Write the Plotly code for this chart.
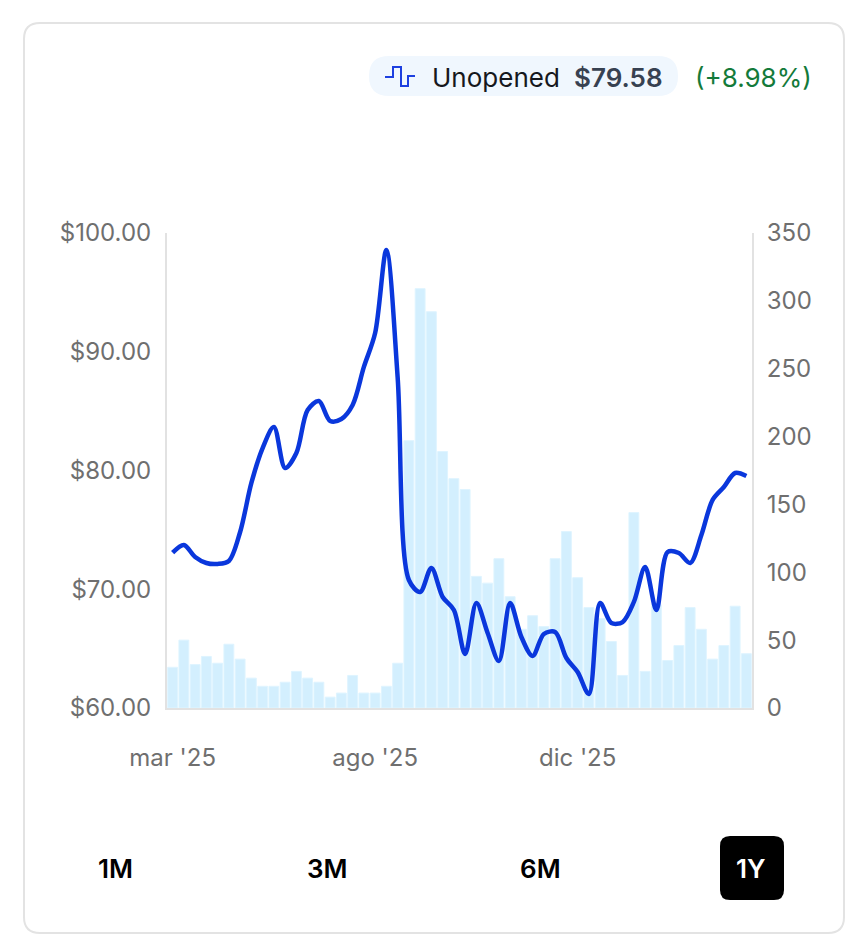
import plotly.graph_objects as go

W = 853
H = 947

# Datos
weeks = list(range(52))
prices = [73.08, 73.73, 72.72, 72.21, 72.13, 72.38, 74.82, 78.95, 81.89, 83.66, 80.21, 81.47, 85.09,
          85.85, 84.17, 84.34, 85.52, 88.72, 91.58, 98.57, 87.87, 70.78, 69.77, 71.79, 69.35, 68.25,
          64.55, 68.84, 66.32, 63.96, 68.84, 65.98, 64.38, 66.23, 66.40, 64.21, 63.03, 61.18, 68.84,
          67.16, 67.24, 68.93, 71.87, 68.25, 73.14, 73.05, 72.21, 74.57, 77.52, 78.61, 79.79, 79.54]
volumes = [30, 50, 32, 38, 33, 47, 36, 22, 16, 16, 19, 27, 22, 19, 8, 11, 24, 11, 11, 16, 33, 197,
           309, 292, 189, 169, 161, 97, 92, 110, 82, 58, 68, 60, 110, 130, 96, 74, 66, 49, 24, 144,
           27, 76, 35, 46, 74, 58, 36, 46, 75, 40]
x_tick_vals = [0, 18, 36]
x_tick_text = ["mar '25", "ago '25", "dic '25"]
price_ticks = [60, 70, 80, 90, 100]
price_labels = ["$60.00", "$70.00", "$80.00", "$90.00", "$100.00"]
volume_ticks = [0, 50, 100, 150, 200, 250, 300, 350]

FONT = "Inter"
GRAY = "#6f6f6f"
AXIS = "#e2e2e2"


def px(x):
    return x / W


def py(y):
    return 1 - y / H


def round_rect(x0, y0, x1, y1, r):
    a = [px(x0), px(x0 + r), px(x1 - r), px(x1)]
    b = [py(y0), py(y0 + r), py(y1 - r), py(y1)]
    return (f"M {a[1]} {b[0]} L {a[2]} {b[0]} Q {a[3]} {b[0]} {a[3]} {b[1]} "
            f"L {a[3]} {b[2]} Q {a[3]} {b[3]} {a[2]} {b[3]} L {a[1]} {b[3]} "
            f"Q {a[0]} {b[3]} {a[0]} {b[2]} L {a[0]} {b[1]} Q {a[0]} {b[0]} {a[1]} {b[0]} Z")


def box(x0, y0, x1, y1, r, fill, line="rgba(0,0,0,0)", width=0):
    return dict(type="path", xref="paper", yref="paper", path=round_rect(x0, y0, x1, y1, r),
                fillcolor=fill, line=dict(color=line, width=width), layer="below")


def label(x, y, text, size, color, anchor="center", weight=400):
    return dict(xref="paper", yref="paper", x=px(x), y=py(y), text=text, showarrow=False,
                xanchor=anchor, yanchor="middle",
                font=dict(family=FONT, size=size, color=color, weight=weight))


fig = go.Figure()

# Barras de volumen
fig.add_trace(go.Bar(x=weeks, y=volumes, yaxis="y", width=0.88,
                     marker=dict(color="#d3effe", line=dict(color="#dff4ff", width=1))))

# Linea de precio
fig.add_trace(go.Scatter(x=weeks, y=prices, yaxis="y2", mode="lines",
                         line=dict(color="#0a37dc", width=4.5, shape="spline", smoothing=0.9)))

icon = [(385, 77), (393, 77), (393, 67), (401, 67), (401, 86), (408, 86), (408, 76), (415, 76)]
icon_path = "M " + " L ".join(f"{px(a)} {py(b)}" for a, b in icon)

fig.update_layout(
    width=W, height=H, showlegend=False, hovermode=False,
    margin=dict(l=0, r=0, t=0, b=0, pad=0),
    paper_bgcolor="white", plot_bgcolor="rgba(0,0,0,0)",
    font=dict(family=FONT, size=24, color=GRAY),
    xaxis=dict(domain=[px(167), px(752)], range=[-0.5, 51.5], tickmode="array", automargin=False,
               tickvals=x_tick_vals, ticktext=x_tick_text, showgrid=False, zeroline=False,
               showline=True, linecolor=AXIS, linewidth=2, ticks="outside", ticklen=27,
               tickcolor="rgba(0,0,0,0)", tickfont=dict(family=FONT, size=24, color=GRAY)),
    yaxis=dict(domain=[py(708), py(233)], range=[0, 350], side="right", tickmode="array",
               automargin=False,
               tickvals=volume_ticks, showgrid=False, zeroline=False, showline=True,
               linecolor=AXIS, linewidth=2, ticks="outside", ticklen=8,
               tickcolor="rgba(0,0,0,0)", tickfont=dict(family=FONT, size=24, color=GRAY)),
    yaxis2=dict(domain=[py(708), py(233)], range=[60, 100], side="left", overlaying="y",
                automargin=False,
                tickmode="array", tickvals=price_ticks, ticktext=price_labels, showgrid=False,
                zeroline=False, showline=True, linecolor=AXIS, linewidth=2, ticks="outside",
                ticklen=9, tickcolor="rgba(0,0,0,0)",
                tickfont=dict(family=FONT, size=24, color=GRAY)),
    shapes=[
        box(24, 23, 844, 933, 16, "white", "#e3e3e3", 2),
        box(369, 56, 678, 96, 20, "#f0f7fe"),
        box(720, 836, 784, 900, 10, "#000000"),
        dict(type="path", xref="paper", yref="paper", path=icon_path,
             line=dict(color="#1d40e0", width=2)),
    ],
    annotations=[
        label(430, 77, "Unopened", 26, "#16181d", "left"),
        label(572, 77, "$79.58", 26, "#374151", "left", 600),
        label(693, 77, "(+8.98%)", 26, "#137a3a", "left"),
        label(115, 868, "1M", 26, "#000000", "center", 600),
        label(327, 868, "3M", 26, "#000000", "center", 600),
        label(540, 868, "6M", 26, "#000000", "center", 600),
        label(751, 868, "1Y", 26, "#ffffff", "center", 600),
    ],
)

fig.write_html("out.html", config=dict(displayModeBar=False),
               post_script="document.body.style.margin='0';")
